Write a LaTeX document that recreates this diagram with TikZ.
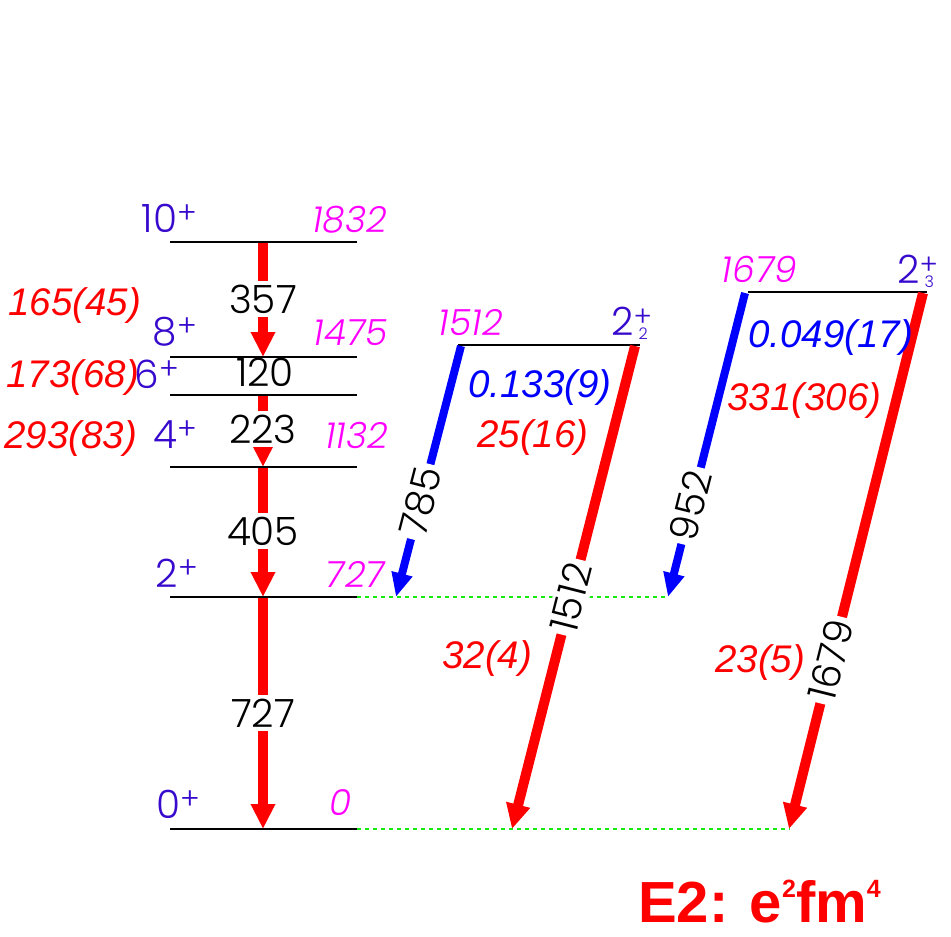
\documentclass[tikz,border=0pt]{standalone}
\usepackage{fontspec}
\setmainfont{Liberation Sans}
\IfFontExistsTF{Poppins Light}{\newfontfamily\geo{Poppins Light}}{\newfontfamily\geo{Poppins}}
\usetikzlibrary{arrows.meta}
\definecolor{spin}{RGB}{55,10,205}
\definecolor{mag}{RGB}{255,0,255}
\definecolor{redA}{RGB}{255,0,0}
\definecolor{bluA}{RGB}{0,0,255}
\definecolor{grn}{RGB}{20,235,20}
\newcommand\plussup{\raisebox{9pt}{\fontsize{30}{30}\selectfont +}}
\newcommand\spinsub[1]{\rlap{\raisebox{9pt}{\fontsize{28}{28}\selectfont +}}\raisebox{-4pt}{\hspace{5pt}\fontsize{16}{16}\selectfont #1}\hspace{8pt}}
\begin{document}
\begin{tikzpicture}[x=1pt,y=-1pt,
  lvl/.style={draw=black,line width=2pt},
  gline/.style={draw=grn,line width=2.5pt,dash pattern=on 4pt off 4pt},
  rarr/.style={draw=redA,line width=10pt,-{Triangle[length=25pt,width=23pt]}},
  barr/.style={draw=bluA,line width=8pt,-{Triangle[length=24pt,width=20pt]}},
  glab/.style={font=\geo\fontsize{39}{39}\selectfont,text=black,fill=white,inner sep=4pt,text height=28pt,text depth=0pt},
  spinlab/.style={font=\geo\fontsize{39}{39}\selectfont,text=spin,anchor=base east,inner sep=0pt},
  enlab/.style={font=\geo\itshape\fontsize{36}{36}\selectfont,text=mag,anchor=base east,inner sep=0pt},
  bred/.style={font=\itshape\fontsize{38.5}{38.5}\selectfont,text=redA,anchor=base west,inner sep=0pt},
  bblu/.style={font=\itshape\fontsize{38.5}{38.5}\selectfont,text=bluA,anchor=base west,inner sep=0pt}
]
\useasboundingbox (0,0) rectangle (951,937);

% level end points
\coordinate (L10a) at (170,242); \coordinate (L10b) at (357,242);
\coordinate (L8a) at (170,357);  \coordinate (L8b) at (357,357);
\coordinate (L6a) at (170,395);  \coordinate (L6b) at (357,395);
\coordinate (L4a) at (170,467);  \coordinate (L4b) at (357,467);
\coordinate (L2a) at (170,597);  \coordinate (L2b) at (357,597);
\coordinate (L0a) at (170,829);  \coordinate (L0b) at (357,829);
\coordinate (M2a) at (458,345);  \coordinate (M2b) at (640,345);
\coordinate (N2a) at (748,292);  \coordinate (N2b) at (927,292);
\coordinate (G2end) at (668,597);
\coordinate (G0end) at (790,829);

% dotted extensions
\draw[gline] (L2b) -- (G2end);
\draw[gline] (L0b) -- (G0end);

% transition end points
\coordinate (a10) at (263,243);
\coordinate (a8)  at (263,357);
\coordinate (a6)  at (263,396);
\coordinate (a4)  at (263,467);
\coordinate (a2)  at (263,597);
\coordinate (a0)  at (263,829);
\coordinate (m2bl) at (461,346);
\coordinate (m2rd) at (635,346);
\coordinate (n2bl) at (745,293);
\coordinate (n2rd) at (923,293);
\coordinate (t785) at (396,597);
\coordinate (t1512) at (512,829);
\coordinate (t952) at (668,597);
\coordinate (t1679) at (789,829);

% ground band transitions
\draw[rarr] (a10) -- (a8);
\draw[rarr] (a6) -- (a4);
\draw[rarr] (a4) -- (a2);
\draw[rarr] (a2) -- (a0);

\node[glab,anchor=base] (g357) at (263,313) {357};
\node[glab,anchor=base] (g223) at (263,443) {223};
\node[glab,anchor=base] (g405) at (263,545) {405};
\node[glab,anchor=base] (g727) at (263,727) {727};

% levels
\foreach \n in {10,8,6,4,2,0} \draw[lvl] (L\n a) -- (L\n b);
\draw[lvl] (M2a) -- (M2b);
\draw[lvl] (N2a) -- (N2b);

\node[glab,anchor=base,inner sep=0pt,text height=25pt,fill=none] (g120) at (265,386) {120};

% slanted transitions
\draw[barr] (m2bl) -- node[glab,sloped,pos=0.62] (g785) {785} (t785);
\draw[rarr] (m2rd) -- node[glab,sloped,pos=0.52] (g1512) {1512} (t1512);
\draw[barr] (n2bl) -- node[glab,sloped,pos=0.70] (g952) {952} (t952);
\draw[rarr] (n2rd) -- node[glab,sloped,pos=0.685] (g1679) {1679} (t1679);

% spins
\node[spinlab] (s10) at (197,232) {10\plussup};
\node[spinlab] (s8) at (197,345) {8\plussup};
\node[spinlab] (s6) at (179,388) {6\plussup};
\node[spinlab] (s4) at (197,448) {4\plussup};
\node[spinlab] (s2) at (198,587) {2\plussup};
\node[spinlab] (s0) at (200,818) {0\plussup};
\node[spinlab,anchor=base west] (s22) at (611,335) {2\spinsub{2}};
\node[spinlab,anchor=base west] (s23) at (897,283) {2\spinsub{3}};

% energies
\node[enlab] (e1832) at (387,232) {1832};
\node[enlab] (e1475) at (388,345) {1475};
\node[enlab] (e1132) at (388,448) {1132};
\node[enlab] (e727) at (385,587) {727};
\node[enlab] (e0) at (352,815) {0};
\node[enlab] (e1512) at (503,335) {1512};
\node[enlab] (e1679) at (797,282) {1679};

% B(E2) values
\node[bred] (b1) at (8,315) {165(45)};
\node[bred] (b2) at (6,387) {173(68)};
\node[bred] (b3) at (4,448) {293(83)};
\node[bblu] (b4) at (468,397) {0.133(9)};
\node[bred] (b5) at (477,447) {25(16)};
\node[bred] (b6) at (442,668) {32(4)};
\node[bblu] (b7) at (748,347) {0.049(17)};
\node[bred] (b8) at (727,410) {331(306)};
\node[bred] (b9) at (715,672) {23(5)};

% unit
\node[anchor=base west,inner sep=0pt,text=redA,font=\bfseries\fontsize{58}{58}\selectfont] (unit) at (638,922)
  {E2: e\raisebox{25pt}{\fontsize{25}{25}\selectfont 2}fm\raisebox{25pt}{\fontsize{25}{25}\selectfont 4}};
\end{tikzpicture}
\end{document}
